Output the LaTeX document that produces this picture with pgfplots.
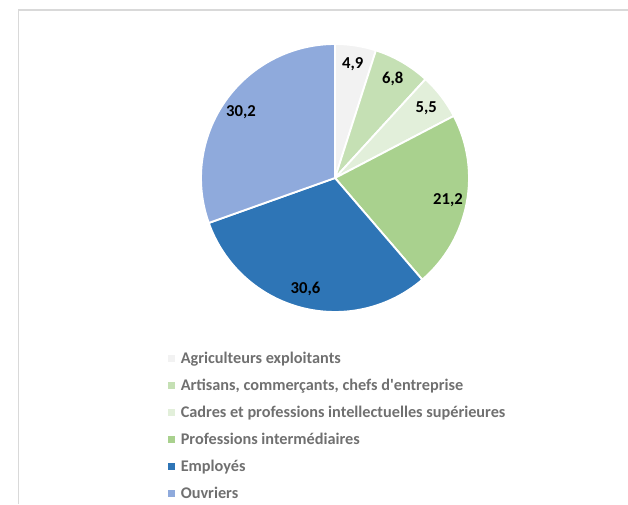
\documentclass[border=0pt]{standalone}
\usepackage{fontspec}
\setmainfont{Carlito}
\usepackage{pgfplots}
\usepackage{pgfplotstable}
\pgfplotsset{compat=1.18}

\definecolor{cA}{HTML}{F2F2F2}
\definecolor{cB}{HTML}{C5E0B4}
\definecolor{cC}{HTML}{E2EFDA}
\definecolor{cD}{HTML}{A9D18E}
\definecolor{cE}{HTML}{2E75B6}
\definecolor{cF}{HTML}{8FAADC}
\definecolor{framegray}{HTML}{D9D9D9}
\definecolor{legtext}{HTML}{707070}

\pgfplotstableread[col sep=semicolon]{
label;value;col
Agriculteurs exploitants;4.9;cA
Artisans, commerçants, chefs d\textquotesingle entreprise;6.8;cB
Cadres et professions intellectuelles supérieures;5.5;cC
Professions intermédiaires;21.2;cD
Employés;30.6;cE
Ouvriers;30.2;cF
}\pietable

\begin{document}
\begin{tikzpicture}
\path[use as bounding box] (0,0) rectangle (471pt,378pt);
\begin{axis}[
  at={(0,0)}, anchor=south west,
  scale only axis, width=471pt, height=378pt,
  xmin=0, xmax=628, ymin=0, ymax=504,
  hide axis, clip=false,
  legend cell align=left,
  legend style={at={(axis cs:164,158)}, anchor=north west, draw=none, fill=none,
    font=\fontsize{12.2}{14}\selectfont\bfseries, text=legtext, row sep=6.2pt,
    /tikz/every odd column/.append style={column sep=2pt}},
  legend image code/.code={\fill[#1, draw=none] (0pt,-2.7pt) rectangle (5.4pt,2.7pt);},
]
% frame
\draw[framegray, line width=0.8pt] (axis cs:18.5,0) -- (axis cs:18.5,494) -- (axis cs:628,494);

% total
\pgfplotstablegetrowsof{\pietable}
\pgfmathtruncatemacro\nrows{\pgfplotsretval-1}
\def\total{0}
\pgfplotsforeachungrouped \i in {0,...,\nrows}{%
  \pgfplotstablegetelem{\i}{value}\of\pietable
  \pgfmathsetmacro\total{\total+\pgfplotsretval}%
}
\def\cum{0}
\pgfplotsforeachungrouped \i in {0,...,\nrows}{%
  \pgfplotstablegetelem{\i}{value}\of\pietable \let\val\pgfplotsretval
  \pgfplotstablegetelem{\i}{col}\of\pietable \let\slicecol\pgfplotsretval
  \pgfplotstablegetelem{\i}{label}\of\pietable \let\slicelab\pgfplotsretval
  \pgfmathsetmacro\angA{90-\cum/\total*360}%
  \pgfmathsetmacro\angB{90-(\cum+\val)/\total*360}%
  \pgfmathsetmacro\angM{(\angA+\angB)/2}%
  \edef\temp{%
    \noexpand\fill[fill=\slicecol, draw=white, line width=1.4pt, line join=round]
      (axis cs:335,326) -- ++(\angA:100.5pt) arc[start angle=\angA, end angle=\angB, radius=100.5pt] -- cycle;
    \noexpand\path (axis cs:335,326) ++(\angM:86.3pt) node[font=\noexpand\fontsize{12.5}{14}\noexpand\selectfont\noexpand\bfseries, text=black]
      {\noexpand\pgfmathprintnumber[fixed, precision=1, fixed zerofill, use comma, assume math mode=true]{\val}};
  }%
  \temp
  \edef\temp{\noexpand\addlegendimage{fill=\slicecol, draw=none}\noexpand\addlegendentry{\unexpanded\expandafter{\slicelab}}}%
  \temp
  \pgfmathsetmacro\cum{\cum+\val}%
}
\end{axis}
\end{tikzpicture}
\end{document}
